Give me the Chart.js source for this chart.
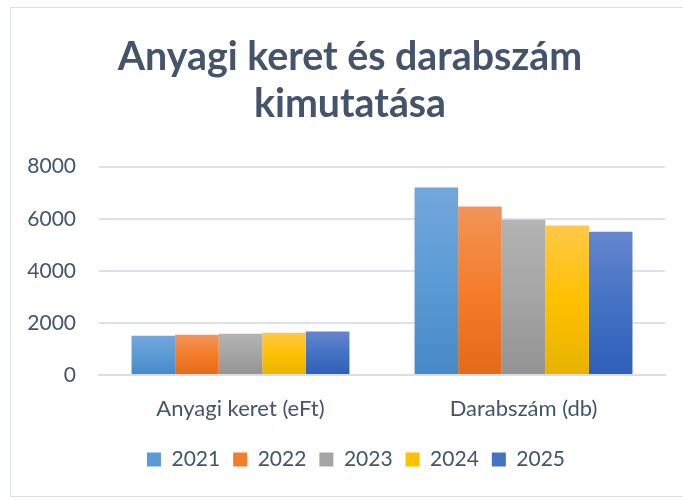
<!DOCTYPE html>
<html>
<head>
<meta charset="utf-8">
<script src="https://cdn.jsdelivr.net/npm/chart.js@4.4.0/dist/chart.umd.min.js"></script>
<style>
  html, body { margin: 0; padding: 0; background: #fff; overflow: hidden; }
  .frame {
    position: absolute; left: 10px; top: 7px; width: 680px; height: 490px;
    border: 1.5px solid #DCE2EA; box-sizing: border-box;
  }
  #chart { position: absolute; left: 10px; top: 7px; }
</style>
</head>
<body>
<div class="frame"></div>
<canvas id="chart" width="680" height="490"></canvas>
<script>
const categories = ["Anyagi keret (eFt)", "Darabszám (db)"];
const years = ["2021", "2022", "2023", "2024", "2025"];
const values2021 = [1510, 7200];
const values2022 = [1550, 6470];
const values2023 = [1590, 5960];
const values2024 = [1630, 5740];
const values2025 = [1670, 5500];
const yTicks = [0, 2000, 4000, 6000, 8000];

const seriesValues = [values2021, values2022, values2023, values2024, values2025];
// top / middle / bottom shades of the Excel gradient fill
const palette = [
  ["#73A7DC", "#5B9BD5", "#4688C7"],
  ["#F29458", "#F47D2A", "#E46A18"],
  ["#B3B3B3", "#A5A5A5", "#939393"],
  ["#FFC848", "#FFC000", "#E5B300"],
  ["#6585CE", "#4472C4", "#2F5EB9"],
];
const textColor = "#44546A";

function barGradient(colors) {
  return (context) => {
    const chart = context.chart;
    const { ctx, chartArea, scales } = chart;
    if (!chartArea || context.type !== "data") return colors[1];
    const v = context.raw;
    const top = scales.y.getPixelForValue(v);
    const bottom = scales.y.getPixelForValue(0);
    const g = ctx.createLinearGradient(0, top, 0, bottom);
    g.addColorStop(0, colors[0]);
    g.addColorStop(0.5, colors[1]);
    g.addColorStop(1, colors[2]);
    return g;
  };
}

// title and legend are centred on the whole frame, not on the plot
const centerBlocks = {
  id: "centerBlocks",
  afterLayout(chart) {
    chart.titleBlock.left = 0;
    chart.titleBlock.right = chart.width;
    chart.legend.left = 6;
    chart.legend.right = chart.width + 6;
  },
};

const datasets = years.map((year, i) => ({
  label: year,
  data: seriesValues[i],
  backgroundColor: barGradient(palette[i]),
  borderWidth: 0,
  barPercentage: 1.0,
  categoryPercentage: 0.77,
}));

const ctx = document.getElementById("chart").getContext("2d");
new Chart(ctx, {
  type: "bar",
  data: { labels: categories, datasets: datasets },
  plugins: [centerBlocks],
  options: {
    responsive: false,
    animation: false,
    layout: { padding: { left: 0, right: 25, top: 0, bottom: 17 } },
    plugins: {
      tooltip: { enabled: false },
      title: {
        display: true,
        text: ["Anyagi keret és darabszám", "kimutatása"],
        color: textColor,
        font: { family: "Lato", size: 39.3, weight: "bold" },
        lineHeight: 1.18,
        padding: { top: 27, bottom: 38.4 },
      },
      legend: {
        position: "bottom",
        labels: {
          color: textColor,
          font: { family: "Lato", size: 21 },
          boxWidth: 14,
          boxHeight: 14,
          padding: 13,
          generateLabels: () =>
            years.map((year, i) => ({
              text: year,
              fillStyle: palette[i][1],
              strokeStyle: palette[i][1],
              lineWidth: 0,
              fontColor: textColor,
              datasetIndex: i,
            })),
        },
      },
    },
    scales: {
      x: {
        afterFit: (scale) => { scale.height -= 7.5; },
        grid: { display: false, drawTicks: false },
        border: { display: true, color: "#D9DEE6", width: 2 },
        ticks: { color: textColor, font: { family: "Lato", size: 22 }, padding: 21 },
      },
      y: {
        min: 0,
        max: 8000,
        afterFit: (scale) => { scale.width = 89; },
        afterBuildTicks: (scale) => { scale.ticks = yTicks.map((v) => ({ value: v })); },
        grid: { color: "#DDE2EA", lineWidth: 2, drawTicks: false },
        border: { display: false },
        ticks: {
          color: textColor,
          font: { family: "Lato", size: 21 },
          padding: 23,
          callback: (v) => String(v),
        },
      },
    },
  },
});
</script>
</body>
</html>
